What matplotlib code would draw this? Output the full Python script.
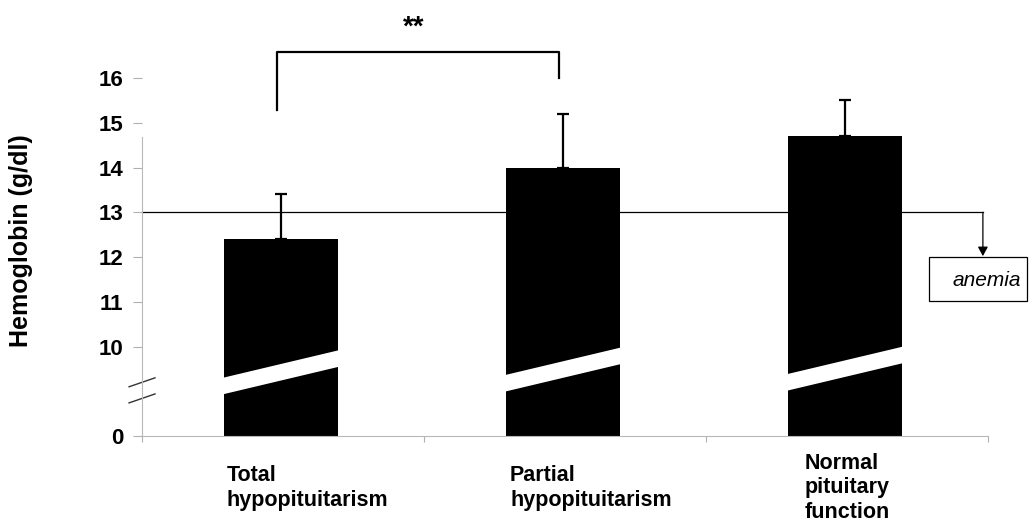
import numpy as np
import matplotlib.pyplot as plt
from matplotlib.patches import Polygon, Rectangle

plt.rcParams['font.family'] = ['Liberation Sans', 'DejaVu Sans']

# data
groups = ['Total\nhypopituitarism', 'Partial\nhypopituitarism', 'Normal\npituitary\nfunction']
means = [12.4, 14.0, 14.7]
sds = [1.0, 1.2, 0.8]
anemia_cut = 13.0
ytick_vals = [10, 11, 12, 13, 14, 15, 16]
sig_label = '**'

# broken axis: the real 0 is drawn at 8
base = 8.0

fig = plt.figure(figsize=(10.33, 5.26), dpi=100)
ax = fig.add_axes([0.1375, 0.1711, 0.8189, 0.6806])

x = np.arange(len(groups)) + 0.493
w = 0.404
ax.bar(x, np.array(means) - base, bottom=base, width=w, color='black', zorder=2)
ax.errorbar(x, means, yerr=[np.zeros(len(means)), sds], fmt='none', ecolor='black',
            elinewidth=1.6, capsize=4.5, capthick=1.6, zorder=3)

# white slanted break band through each bar
band_low = [8.93, 8.99, 9.01]
for xi, b in zip(x, band_low):
    l, r = xi - w / 2 - 0.005, xi + w / 2 + 0.005
    poly = Polygon([(l, b), (r, b + 0.62), (r, b + 0.99), (l, b + 0.37)],
                   closed=True, facecolor='white', edgecolor='none', zorder=2.5)
    ax.add_patch(poly)

# anemia threshold line with arrow to box
xr = 2.982
ax.plot([0, xr], [anemia_cut, anemia_cut], color='black', lw=0.9, zorder=1, clip_on=False)
ax.annotate('', xy=(xr, 12.02), xytext=(xr, anemia_cut),
            arrowprops=dict(arrowstyle='-|>,head_length=0.55,head_width=0.3',
                            color='black', lw=0.9, shrinkA=0, shrinkB=0),
            annotation_clip=False)
ax.add_patch(Rectangle((2.791, 11.02), 0.347, 0.98, facecolor='white', edgecolor='black',
                       lw=0.9, clip_on=False, zorder=4))
ax.text(2.996, 11.47, 'anemia', style='italic', fontsize=15, ha='center', va='center', zorder=5)

# significance bracket
ax.plot([0.479, 0.479, 1.479, 1.479], [15.29, 16.57, 16.57, 15.99], color='black', lw=1.6,
        clip_on=False)
ax.text(0.965, 17.12, sig_label, fontsize=20, fontweight='bold', ha='center', va='center')

# axis break marks
ax.plot([-0.046, 0.046], [9.10, 9.30], color='#333333', lw=1, clip_on=False)
ax.plot([-0.046, 0.046], [8.74, 8.94], color='#333333', lw=1, clip_on=False)

ax.set_xlim(0, 3)
ax.set_ylim(base, 16)
ax.set_yticks([base] + ytick_vals)
ax.set_yticklabels(['0'] + [str(v) for v in ytick_vals], fontsize=16, fontweight='bold')
ax.set_xticks([0, 1, 2, 3])
ax.set_xticklabels([])
ax.tick_params(axis='y', length=6.5, width=0.8, color='#b0b0b0', pad=7)
ax.tick_params(axis='x', length=4.5, width=0.8, color='#b0b0b0')

for s in ['top', 'right']:
    ax.spines[s].set_visible(False)
for s in ['left', 'bottom']:
    ax.spines[s].set_color('#b8b8b8')
    ax.spines[s].set_linewidth(0.8)
ax.spines['left'].set_bounds(base, 14.68)

ax.set_ylabel('Hemoglobin (g/dl)', fontsize=18, fontweight='bold')
ax.yaxis.set_label_coords(-0.129, 0.545)

label_x = [0.301, 1.305, 2.351]
for lx, g in zip(label_x, groups):
    ax.text(lx, -0.145, g, transform=ax.get_xaxis_transform(), fontsize=15.5,
            fontweight='bold', ha='left', va='center', linespacing=1.2)

fig.savefig('out.png', dpi=100)
